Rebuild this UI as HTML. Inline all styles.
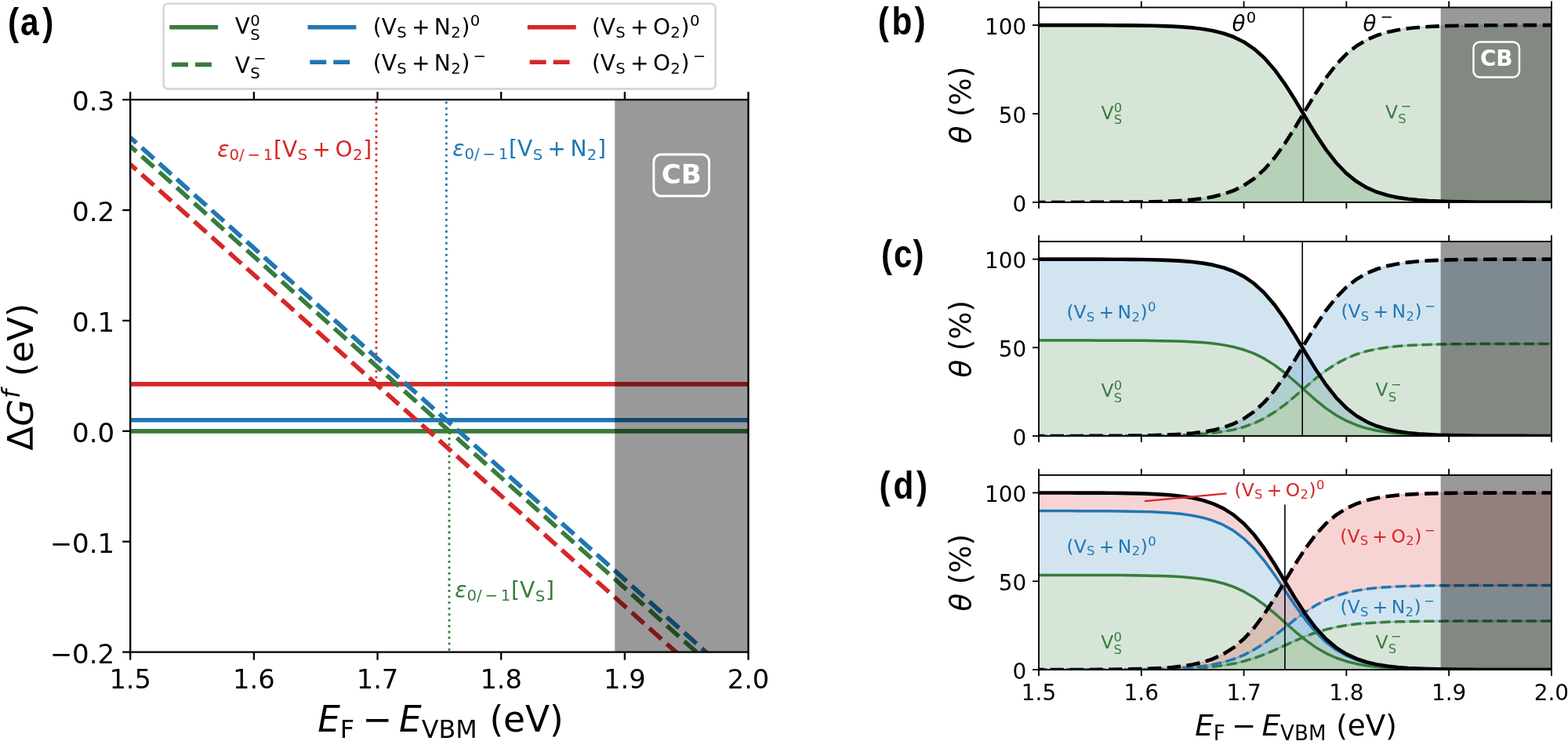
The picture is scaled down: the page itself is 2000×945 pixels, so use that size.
<!DOCTYPE html>
<html lang="en"><head><meta charset="utf-8"><title>Defect formation energies and coverages</title>
<style>html,body{margin:0;padding:0;background:#fff;}body{width:2000px;height:945px;overflow:hidden;}svg{display:block;}text{font-family:'DejaVu Sans','Liberation Sans',sans-serif;font-kerning:none;white-space:pre;}.pl{font-family:"Liberation Sans","DejaVu Sans",sans-serif;font-weight:bold;}</style></head><body>
<svg width="2000" height="945" viewBox="0 0 2000 945">
<rect x="0" y="0" width="2000" height="945" fill="#fff"/>
<clipPath id="c1"><rect x="166.2" y="127.1" width="788.3" height="704.5"/></clipPath>
<g clip-path="url(#c1)">
<line x1="161.2" y1="549.8" x2="959.5" y2="549.8" stroke="#377d3c" stroke-width="5.65" stroke-linecap="butt"/>
<line x1="161.2" y1="535.71" x2="959.5" y2="535.71" stroke="#1f77b4" stroke-width="5.65" stroke-linecap="butt"/>
<line x1="161.2" y1="489.92" x2="959.5" y2="489.92" stroke="#d62728" stroke-width="5.65" stroke-linecap="butt"/>
<line x1="479.94" y1="489.92" x2="479.94" y2="127.1" stroke="#d62728" stroke-width="2.82" stroke-linecap="butt" stroke-dasharray="2.82 4.65"/>
<line x1="569.34" y1="535.71" x2="569.34" y2="127.1" stroke="#1f77b4" stroke-width="2.82" stroke-linecap="butt" stroke-dasharray="2.82 4.65"/>
<line x1="572.96" y1="549.8" x2="572.96" y2="831.6" stroke="#377d3c" stroke-width="2.82" stroke-linecap="butt" stroke-dasharray="2.82 4.65" stroke-dashoffset="6.67"/>
<line x1="166.2" y1="186.28" x2="954.5" y2="890.78" stroke="#377d3c" stroke-width="5.65" stroke-linecap="butt" stroke-dasharray="20.9 9.04" stroke-dashoffset="10.4"/>
<line x1="166.2" y1="175.43" x2="954.5" y2="879.93" stroke="#1f77b4" stroke-width="5.65" stroke-linecap="butt" stroke-dasharray="20.9 9.04" stroke-dashoffset="10.4"/>
<line x1="166.2" y1="209.53" x2="954.5" y2="914.03" stroke="#d62728" stroke-width="5.65" stroke-linecap="butt" stroke-dasharray="20.9 9.04" stroke-dashoffset="10.4"/>
<rect x="784.23" y="127.1" width="170.27" height="704.5" fill="#000" fill-opacity="0.4"/>
</g>
<rect x="833.85" y="196.9" width="70.7" height="53.2" rx="9.5" ry="9.5" fill="none" stroke="#fff" stroke-width="3"/>
<text x="869.2" y="234.1" font-size="34" font-weight="bold" fill="#fff" text-anchor="middle">CB</text>
<rect x="166.2" y="127.1" width="788.3" height="704.5" fill="none" stroke="#000" stroke-width="2.3"/>
<line x1="166.2" y1="831.6" x2="166.2" y2="841.6" stroke="#000" stroke-width="2.3" stroke-linecap="butt"/>
<line x1="166.2" y1="127.1" x2="166.2" y2="117.1" stroke="#000" stroke-width="2.3" stroke-linecap="butt"/>
<line x1="323.86" y1="831.6" x2="323.86" y2="841.6" stroke="#000" stroke-width="2.3" stroke-linecap="butt"/>
<line x1="323.86" y1="127.1" x2="323.86" y2="117.1" stroke="#000" stroke-width="2.3" stroke-linecap="butt"/>
<line x1="481.52" y1="831.6" x2="481.52" y2="841.6" stroke="#000" stroke-width="2.3" stroke-linecap="butt"/>
<line x1="481.52" y1="127.1" x2="481.52" y2="117.1" stroke="#000" stroke-width="2.3" stroke-linecap="butt"/>
<line x1="639.18" y1="831.6" x2="639.18" y2="841.6" stroke="#000" stroke-width="2.3" stroke-linecap="butt"/>
<line x1="639.18" y1="127.1" x2="639.18" y2="117.1" stroke="#000" stroke-width="2.3" stroke-linecap="butt"/>
<line x1="796.84" y1="831.6" x2="796.84" y2="841.6" stroke="#000" stroke-width="2.3" stroke-linecap="butt"/>
<line x1="796.84" y1="127.1" x2="796.84" y2="117.1" stroke="#000" stroke-width="2.3" stroke-linecap="butt"/>
<line x1="954.5" y1="831.6" x2="954.5" y2="841.6" stroke="#000" stroke-width="2.3" stroke-linecap="butt"/>
<line x1="954.5" y1="127.1" x2="954.5" y2="117.1" stroke="#000" stroke-width="2.3" stroke-linecap="butt"/>
<line x1="166.2" y1="831.6" x2="156.2" y2="831.6" stroke="#000" stroke-width="2.3" stroke-linecap="butt"/>
<line x1="166.2" y1="690.7" x2="156.2" y2="690.7" stroke="#000" stroke-width="2.3" stroke-linecap="butt"/>
<line x1="166.2" y1="549.8" x2="156.2" y2="549.8" stroke="#000" stroke-width="2.3" stroke-linecap="butt"/>
<line x1="166.2" y1="408.9" x2="156.2" y2="408.9" stroke="#000" stroke-width="2.3" stroke-linecap="butt"/>
<line x1="166.2" y1="268" x2="156.2" y2="268" stroke="#000" stroke-width="2.3" stroke-linecap="butt"/>
<line x1="166.2" y1="127.1" x2="156.2" y2="127.1" stroke="#000" stroke-width="2.3" stroke-linecap="butt"/>
<text x="166.2" y="878" font-size="33.7" text-anchor="middle">1.5</text>
<text x="323.86" y="878" font-size="33.7" text-anchor="middle">1.6</text>
<text x="481.52" y="878" font-size="33.7" text-anchor="middle">1.7</text>
<text x="639.18" y="878" font-size="33.7" text-anchor="middle">1.8</text>
<text x="796.84" y="878" font-size="33.7" text-anchor="middle">1.9</text>
<text x="954.5" y="878" font-size="33.7" text-anchor="middle">2.0</text>
<text x="146.2" y="845.6" font-size="34" text-anchor="end">−0.2</text>
<text x="146.2" y="704.7" font-size="34" text-anchor="end">−0.1</text>
<text x="146.2" y="563.8" font-size="34" text-anchor="end">0.0</text>
<text x="146.2" y="422.9" font-size="34" text-anchor="end">0.1</text>
<text x="146.2" y="282" font-size="34" text-anchor="end">0.2</text>
<text x="146.2" y="141.1" font-size="34" text-anchor="end">0.3</text>
<text fill="#000"><tspan x="405.17" y="933.3" font-size="45.4" font-style="italic">E</tspan><tspan x="433.85" y="940.75" font-size="31.78">F</tspan><tspan x="462.22" y="933.3" font-size="45.4">−</tspan><tspan x="509.1" y="933.3" font-size="45.4" font-style="italic">E</tspan><tspan x="537.79" y="940.75" font-size="31.78">VBM</tspan><tspan x="609.99" y="933.3" font-size="45.4"> (eV)</tspan></text>
<g transform="translate(42.2,480.6) rotate(-90)"><text fill="#000"><tspan x="-94.01" y="0" font-size="45">Δ</tspan><tspan x="-63.23" y="0" font-size="45" font-style="italic">G</tspan><tspan x="-27.46" y="-17.23" font-size="31.5" font-style="italic">f</tspan><tspan x="-13.88" y="0" font-size="45"> (eV)</tspan></text></g>
<text fill="#d62728"><tspan x="277.3" y="199.6" font-size="28.1" font-style="italic">ε</tspan><tspan x="292.49" y="203.67" font-size="19.67">0/</tspan><tspan x="315.46" y="203.67" font-size="19.67">−</tspan><tspan x="335.78" y="203.67" font-size="19.67">1</tspan><tspan x="349.06" y="199.6" font-size="28.1">[</tspan><tspan x="360.02" y="199.6" font-size="28.1">V</tspan><tspan x="379.63" y="204.21" font-size="19.67">S</tspan><tspan x="398.36" y="199.6" font-size="28.1">+</tspan><tspan x="427.38" y="199.6" font-size="28.1">O</tspan><tspan x="449.88" y="204.21" font-size="19.67">2</tspan><tspan x="463.16" y="199.6" font-size="28.1">]</tspan></text>
<text fill="#1f77b4"><tspan x="577.3" y="199.3" font-size="28.1" font-style="italic">ε</tspan><tspan x="592.49" y="203.37" font-size="19.67">0/</tspan><tspan x="615.46" y="203.37" font-size="19.67">−</tspan><tspan x="635.78" y="203.37" font-size="19.67">1</tspan><tspan x="649.06" y="199.3" font-size="28.1">[</tspan><tspan x="660.02" y="199.3" font-size="28.1">V</tspan><tspan x="679.63" y="203.91" font-size="19.67">S</tspan><tspan x="698.36" y="199.3" font-size="28.1">+</tspan><tspan x="727.38" y="199.3" font-size="28.1">N</tspan><tspan x="748.78" y="203.91" font-size="19.67">2</tspan><tspan x="762.06" y="199.3" font-size="28.1">]</tspan></text>
<text fill="#377d3c"><tspan x="580.3" y="761.9" font-size="28.1" font-style="italic">ε</tspan><tspan x="595.49" y="765.97" font-size="19.67">0/</tspan><tspan x="618.46" y="765.97" font-size="19.67">−</tspan><tspan x="638.78" y="765.97" font-size="19.67">1</tspan><tspan x="652.06" y="761.9" font-size="28.1">[</tspan><tspan x="663.02" y="761.9" font-size="28.1">V</tspan><tspan x="682.63" y="766.51" font-size="19.67">S</tspan><tspan x="695.88" y="761.9" font-size="28.1">]</tspan></text>
<rect x="208.6" y="4.8" width="704" height="108.6" rx="5.5" ry="5.5" fill="#fff" fill-opacity="0.8" stroke="#ccc" stroke-opacity="0.8" stroke-width="2.6"/>
<line x1="219.1" y1="34.7" x2="275.3" y2="34.7" stroke="#377d3c" stroke-width="5.65" stroke-linecap="square"/>
<line x1="219.1" y1="82.3" x2="275.3" y2="82.3" stroke="#377d3c" stroke-width="5.65" stroke-linecap="butt" stroke-dasharray="20.9 9.04"/>
<text fill="#000"><tspan x="299.8" y="43.4" font-size="28">V</tspan><tspan x="319.34" y="51.06" font-size="19.6">S</tspan><tspan x="319.34" y="32.68" font-size="19.6">0</tspan></text>
<text fill="#000"><tspan x="299.8" y="92.5" font-size="28">V</tspan><tspan x="319.34" y="100.16" font-size="19.6">S</tspan><tspan x="323.16" y="80.94" font-size="19.6">−</tspan></text>
<line x1="395.3" y1="34.7" x2="451.5" y2="34.7" stroke="#1f77b4" stroke-width="5.65" stroke-linecap="square"/>
<line x1="395.3" y1="79.2" x2="451.5" y2="79.2" stroke="#1f77b4" stroke-width="5.65" stroke-linecap="butt" stroke-dasharray="20.9 9.04"/>
<text fill="#000"><tspan x="475.8" y="43.5" font-size="28">(</tspan><tspan x="486.72" y="43.5" font-size="28">V</tspan><tspan x="506.26" y="48.09" font-size="19.6">S</tspan><tspan x="524.92" y="43.5" font-size="28">+</tspan><tspan x="553.84" y="43.5" font-size="28">N</tspan><tspan x="575.17" y="48.09" font-size="19.6">2</tspan><tspan x="588.4" y="43.5" font-size="28">)</tspan><tspan x="599.71" y="32.78" font-size="19.6">0</tspan></text>
<text fill="#000"><tspan x="475.8" y="89.5" font-size="28">(</tspan><tspan x="486.72" y="89.5" font-size="28">V</tspan><tspan x="506.26" y="94.09" font-size="19.6">S</tspan><tspan x="524.92" y="89.5" font-size="28">+</tspan><tspan x="553.84" y="89.5" font-size="28">N</tspan><tspan x="575.17" y="94.09" font-size="19.6">2</tspan><tspan x="588.4" y="89.5" font-size="28">)</tspan><tspan x="603.53" y="77.94" font-size="19.6">−</tspan></text>
<line x1="675.7" y1="34.7" x2="731.9" y2="34.7" stroke="#d62728" stroke-width="5.65" stroke-linecap="square"/>
<line x1="675.7" y1="79.2" x2="731.9" y2="79.2" stroke="#d62728" stroke-width="5.65" stroke-linecap="butt" stroke-dasharray="20.9 9.04"/>
<text fill="#000"><tspan x="754.9" y="43.5" font-size="28">(</tspan><tspan x="765.82" y="43.5" font-size="28">V</tspan><tspan x="785.36" y="48.09" font-size="19.6">S</tspan><tspan x="804.02" y="43.5" font-size="28">+</tspan><tspan x="832.94" y="43.5" font-size="28">O</tspan><tspan x="855.36" y="48.09" font-size="19.6">2</tspan><tspan x="868.6" y="43.5" font-size="28">)</tspan><tspan x="879.9" y="32.78" font-size="19.6">0</tspan></text>
<text fill="#000"><tspan x="754.9" y="89.5" font-size="28">(</tspan><tspan x="765.82" y="89.5" font-size="28">V</tspan><tspan x="785.36" y="94.09" font-size="19.6">S</tspan><tspan x="804.02" y="89.5" font-size="28">+</tspan><tspan x="832.94" y="89.5" font-size="28">O</tspan><tspan x="855.36" y="94.09" font-size="19.6">2</tspan><tspan x="868.6" y="89.5" font-size="28">)</tspan><tspan x="883.72" y="77.94" font-size="19.6">−</tspan></text>
<g transform="translate(0,45) scale(0.84,1)"><text y="0" font-size="50.4" class="pl"><tspan x="11.77">(</tspan><tspan x="31.06">a</tspan><tspan x="64.67">)</tspan></text></g>
<clipPath id="c2"><rect x="1325" y="9.5" width="653.9" height="248.5"/></clipPath>
<g clip-path="url(#c2)">
<path d="M1298.84,32.1 L1311.92,32.1 L1325,32.1 L1338.08,32.11 L1351.16,32.11 L1364.23,32.12 L1377.31,32.14 L1390.39,32.16 L1403.47,32.19 L1416.55,32.24 L1429.62,32.31 L1442.7,32.42 L1455.78,32.57 L1468.86,32.8 L1481.94,33.14 L1495.01,33.63 L1508.09,34.36 L1521.17,35.42 L1534.25,36.97 L1547.33,39.22 L1560.4,42.45 L1573.48,47.06 L1586.56,53.5 L1599.64,62.32 L1612.72,74.03 L1625.79,88.96 L1638.87,107.03 L1651.95,127.61 L1665.03,149.44 L1678.11,170.95 L1691.18,190.64 L1704.26,207.5 L1717.34,221.12 L1730.42,231.62 L1743.5,239.42 L1756.57,245.07 L1769.65,249.07 L1782.73,251.87 L1795.81,253.81 L1808.89,255.14 L1821.96,256.06 L1835.04,256.68 L1848.12,257.1 L1861.2,257.39 L1874.28,257.59 L1887.35,257.72 L1900.43,257.81 L1913.51,257.87 L1926.59,257.91 L1939.67,257.94 L1952.74,257.96 L1965.82,257.97 L1978.9,257.98 L1991.98,257.99 L2005.06,257.99 L2005.06,258 L1991.98,258 L1978.9,258 L1965.82,258 L1952.74,258 L1939.67,258 L1926.59,258 L1913.51,258 L1900.43,258 L1887.35,258 L1874.28,258 L1861.2,258 L1848.12,258 L1835.04,258 L1821.96,258 L1808.89,258 L1795.81,258 L1782.73,258 L1769.65,258 L1756.57,258 L1743.5,258 L1730.42,258 L1717.34,258 L1704.26,258 L1691.18,258 L1678.11,258 L1665.03,258 L1651.95,258 L1638.87,258 L1625.79,258 L1612.72,258 L1599.64,258 L1586.56,258 L1573.48,258 L1560.4,258 L1547.33,258 L1534.25,258 L1521.17,258 L1508.09,258 L1495.01,258 L1481.94,258 L1468.86,258 L1455.78,258 L1442.7,258 L1429.62,258 L1416.55,258 L1403.47,258 L1390.39,258 L1377.31,258 L1364.23,258 L1351.16,258 L1338.08,258 L1325,258 L1311.92,258 L1298.84,258 Z" fill="#377d3c" fill-opacity="0.2" stroke="#377d3c" stroke-opacity="0.2" stroke-width="2.3" stroke-linejoin="round"/>
<path d="M1298.84,258 L1311.92,257.99 L1325,257.99 L1338.08,257.99 L1351.16,257.98 L1364.23,257.97 L1377.31,257.95 L1390.39,257.93 L1403.47,257.9 L1416.55,257.85 L1429.62,257.78 L1442.7,257.67 L1455.78,257.52 L1468.86,257.29 L1481.94,256.95 L1495.01,256.46 L1508.09,255.73 L1521.17,254.67 L1534.25,253.12 L1547.33,250.87 L1560.4,247.64 L1573.48,243.04 L1586.56,236.59 L1599.64,227.77 L1612.72,216.06 L1625.79,201.14 L1638.87,183.06 L1651.95,162.49 L1665.03,140.65 L1678.11,119.14 L1691.18,99.45 L1704.26,82.59 L1717.34,68.97 L1730.42,58.47 L1743.5,50.67 L1756.57,45.02 L1769.65,41.02 L1782.73,38.22 L1795.81,36.28 L1808.89,34.95 L1821.96,34.03 L1835.04,33.41 L1848.12,32.99 L1861.2,32.7 L1874.28,32.5 L1887.35,32.37 L1900.43,32.28 L1913.51,32.22 L1926.59,32.18 L1939.67,32.15 L1952.74,32.13 L1965.82,32.12 L1978.9,32.11 L1991.98,32.1 L2005.06,32.1 L2005.06,258 L1991.98,258 L1978.9,258 L1965.82,258 L1952.74,258 L1939.67,258 L1926.59,258 L1913.51,258 L1900.43,258 L1887.35,258 L1874.28,258 L1861.2,258 L1848.12,258 L1835.04,258 L1821.96,258 L1808.89,258 L1795.81,258 L1782.73,258 L1769.65,258 L1756.57,258 L1743.5,258 L1730.42,258 L1717.34,258 L1704.26,258 L1691.18,258 L1678.11,258 L1665.03,258 L1651.95,258 L1638.87,258 L1625.79,258 L1612.72,258 L1599.64,258 L1586.56,258 L1573.48,258 L1560.4,258 L1547.33,258 L1534.25,258 L1521.17,258 L1508.09,258 L1495.01,258 L1481.94,258 L1468.86,258 L1455.78,258 L1442.7,258 L1429.62,258 L1416.55,258 L1403.47,258 L1390.39,258 L1377.31,258 L1364.23,258 L1351.16,258 L1338.08,258 L1325,258 L1311.92,258 L1298.84,258 Z" fill="#377d3c" fill-opacity="0.2" stroke="#377d3c" stroke-opacity="0.2" stroke-width="2.3" stroke-linejoin="round"/>
<path d="M1298.84,32.1 L1311.92,32.1 L1325,32.1 L1338.08,32.11 L1351.16,32.11 L1364.23,32.12 L1377.31,32.14 L1390.39,32.16 L1403.47,32.19 L1416.55,32.24 L1429.62,32.31 L1442.7,32.42 L1455.78,32.57 L1468.86,32.8 L1481.94,33.14 L1495.01,33.63 L1508.09,34.36 L1521.17,35.42 L1534.25,36.97 L1547.33,39.22 L1560.4,42.45 L1573.48,47.06 L1586.56,53.5 L1599.64,62.32 L1612.72,74.03 L1625.79,88.96 L1638.87,107.03 L1651.95,127.61 L1665.03,149.44 L1678.11,170.95 L1691.18,190.64 L1704.26,207.5 L1717.34,221.12 L1730.42,231.62 L1743.5,239.42 L1756.57,245.07 L1769.65,249.07 L1782.73,251.87 L1795.81,253.81 L1808.89,255.14 L1821.96,256.06 L1835.04,256.68 L1848.12,257.1 L1861.2,257.39 L1874.28,257.59 L1887.35,257.72 L1900.43,257.81 L1913.51,257.87 L1926.59,257.91 L1939.67,257.94 L1952.74,257.96 L1965.82,257.97 L1978.9,257.98 L1991.98,257.99 L2005.06,257.99" fill="none" stroke="#000" stroke-width="4.65" stroke-linejoin="round" stroke-linecap="butt"/>
<path d="M1298.84,258 L1311.92,257.99 L1325,257.99 L1338.08,257.99 L1351.16,257.98 L1364.23,257.97 L1377.31,257.95 L1390.39,257.93 L1403.47,257.9 L1416.55,257.85 L1429.62,257.78 L1442.7,257.67 L1455.78,257.52 L1468.86,257.29 L1481.94,256.95 L1495.01,256.46 L1508.09,255.73 L1521.17,254.67 L1534.25,253.12 L1547.33,250.87 L1560.4,247.64 L1573.48,243.04 L1586.56,236.59 L1599.64,227.77 L1612.72,216.06 L1625.79,201.14 L1638.87,183.06 L1651.95,162.49 L1665.03,140.65 L1678.11,119.14 L1691.18,99.45 L1704.26,82.59 L1717.34,68.97 L1730.42,58.47 L1743.5,50.67 L1756.57,45.02 L1769.65,41.02 L1782.73,38.22 L1795.81,36.28 L1808.89,34.95 L1821.96,34.03 L1835.04,33.41 L1848.12,32.99 L1861.2,32.7 L1874.28,32.5 L1887.35,32.37 L1900.43,32.28 L1913.51,32.22 L1926.59,32.18 L1939.67,32.15 L1952.74,32.13 L1965.82,32.12 L1978.9,32.11 L1991.98,32.1 L2005.06,32.1" fill="none" stroke="#000" stroke-width="4.65" stroke-linejoin="round" stroke-linecap="butt" stroke-dasharray="17.37 7.51" stroke-dashoffset="7.7"/>
<line x1="1662.41" y1="9.5" x2="1662.41" y2="258" stroke="#000" stroke-width="1.6" stroke-linecap="butt"/>
<rect x="1837.66" y="9.5" width="141.24" height="248.5" fill="#000" fill-opacity="0.4"/>
</g>
<rect x="1325" y="9.5" width="653.9" height="248.5" fill="none" stroke="#000" stroke-width="1.85"/>
<line x1="1325" y1="258" x2="1325" y2="266" stroke="#000" stroke-width="1.85" stroke-linecap="butt"/>
<line x1="1325" y1="9.5" x2="1325" y2="1.5" stroke="#000" stroke-width="1.85" stroke-linecap="butt"/>
<line x1="1455.78" y1="258" x2="1455.78" y2="266" stroke="#000" stroke-width="1.85" stroke-linecap="butt"/>
<line x1="1455.78" y1="9.5" x2="1455.78" y2="1.5" stroke="#000" stroke-width="1.85" stroke-linecap="butt"/>
<line x1="1586.56" y1="258" x2="1586.56" y2="266" stroke="#000" stroke-width="1.85" stroke-linecap="butt"/>
<line x1="1586.56" y1="9.5" x2="1586.56" y2="1.5" stroke="#000" stroke-width="1.85" stroke-linecap="butt"/>
<line x1="1717.34" y1="258" x2="1717.34" y2="266" stroke="#000" stroke-width="1.85" stroke-linecap="butt"/>
<line x1="1717.34" y1="9.5" x2="1717.34" y2="1.5" stroke="#000" stroke-width="1.85" stroke-linecap="butt"/>
<line x1="1848.12" y1="258" x2="1848.12" y2="266" stroke="#000" stroke-width="1.85" stroke-linecap="butt"/>
<line x1="1848.12" y1="9.5" x2="1848.12" y2="1.5" stroke="#000" stroke-width="1.85" stroke-linecap="butt"/>
<line x1="1978.9" y1="258" x2="1978.9" y2="266" stroke="#000" stroke-width="1.85" stroke-linecap="butt"/>
<line x1="1978.9" y1="9.5" x2="1978.9" y2="1.5" stroke="#000" stroke-width="1.85" stroke-linecap="butt"/>
<line x1="1325" y1="258" x2="1317" y2="258" stroke="#000" stroke-width="1.85" stroke-linecap="butt"/>
<line x1="1325" y1="145.05" x2="1317" y2="145.05" stroke="#000" stroke-width="1.85" stroke-linecap="butt"/>
<line x1="1325" y1="32.09" x2="1317" y2="32.09" stroke="#000" stroke-width="1.85" stroke-linecap="butt"/>
<text x="1309.3" y="269.6" font-size="27.9" text-anchor="end">0</text>
<text x="1309.3" y="156.65" font-size="27.9" text-anchor="end">50</text>
<text x="1309.3" y="43.69" font-size="27.9" text-anchor="end">100</text>
<g transform="translate(1238.2,134.15) rotate(-90)"><text fill="#000"><tspan x="-49.21" y="0" font-size="37" font-style="italic">θ</tspan><tspan x="-26.58" y="0" font-size="37"> (%)</tspan></text></g>
<rect x="1879.45" y="53.45" width="58.5" height="45.1" rx="8" ry="8" fill="none" stroke="#fff" stroke-width="2.5"/>
<text x="1908.7" y="84.4" font-size="27.8" font-weight="bold" fill="#fff" text-anchor="middle">CB</text>
<text fill="#377d3c"><tspan x="1404.4" y="151.9" font-size="23.4">V</tspan><tspan x="1420.73" y="158.3" font-size="16.38">S</tspan><tspan x="1420.73" y="142.94" font-size="16.38">0</tspan></text>
<text fill="#377d3c"><tspan x="1767" y="151" font-size="23.4">V</tspan><tspan x="1783.33" y="157.4" font-size="16.38">S</tspan><tspan x="1786.52" y="141.34" font-size="16.38">−</tspan></text>
<text fill="#000"><tspan x="1571.6" y="39.5" font-size="27.8" font-style="italic">θ</tspan><tspan x="1589.83" y="28.86" font-size="19.46">0</tspan></text>
<text fill="#000"><tspan x="1738.6" y="39.5" font-size="27.8" font-style="italic">θ</tspan><tspan x="1760.62" y="28.02" font-size="19.46">−</tspan></text>
<g transform="translate(0,44.3) scale(0.84,1)"><text y="0" font-size="50.4" class="pl"><tspan x="1332.96">(</tspan><tspan x="1354.33">b</tspan><tspan x="1388.71">)</tspan></text></g>
<clipPath id="c3"><rect x="1325" y="308" width="653.9" height="248"/></clipPath>
<g clip-path="url(#c3)">
<path d="M1298.84,434.08 L1311.92,434.09 L1325,434.09 L1338.08,434.09 L1351.16,434.09 L1364.23,434.1 L1377.31,434.11 L1390.39,434.12 L1403.47,434.14 L1416.55,434.17 L1429.62,434.21 L1442.7,434.26 L1455.78,434.35 L1468.86,434.48 L1481.94,434.67 L1495.01,434.94 L1508.09,435.35 L1521.17,435.94 L1534.25,436.81 L1547.33,438.07 L1560.4,439.87 L1573.48,442.44 L1586.56,446.02 L1599.64,450.92 L1612.72,457.4 L1625.79,465.62 L1638.87,475.52 L1651.95,486.72 L1665.03,498.52 L1678.11,510.07 L1691.18,520.57 L1704.26,529.51 L1717.34,536.7 L1730.42,542.22 L1743.5,546.31 L1756.57,549.26 L1769.65,551.35 L1782.73,552.81 L1795.81,553.82 L1808.89,554.51 L1821.96,554.99 L1835.04,555.31 L1848.12,555.53 L1861.2,555.68 L1874.28,555.79 L1887.35,555.85 L1900.43,555.9 L1913.51,555.93 L1926.59,555.95 L1939.67,555.97 L1952.74,555.98 L1965.82,555.99 L1978.9,555.99 L1991.98,555.99 L2005.06,556 L2005.06,556 L1991.98,556 L1978.9,556 L1965.82,556 L1952.74,556 L1939.67,556 L1926.59,556 L1913.51,556 L1900.43,556 L1887.35,556 L1874.28,556 L1861.2,556 L1848.12,556 L1835.04,556 L1821.96,556 L1808.89,556 L1795.81,556 L1782.73,556 L1769.65,556 L1756.57,556 L1743.5,556 L1730.42,556 L1717.34,556 L1704.26,556 L1691.18,556 L1678.11,556 L1665.03,556 L1651.95,556 L1638.87,556 L1625.79,556 L1612.72,556 L1599.64,556 L1586.56,556 L1573.48,556 L1560.4,556 L1547.33,556 L1534.25,556 L1521.17,556 L1508.09,556 L1495.01,556 L1481.94,556 L1468.86,556 L1455.78,556 L1442.7,556 L1429.62,556 L1416.55,556 L1403.47,556 L1390.39,556 L1377.31,556 L1364.23,556 L1351.16,556 L1338.08,556 L1325,556 L1311.92,556 L1298.84,556 Z" fill="#377d3c" fill-opacity="0.2" stroke="#377d3c" stroke-opacity="0.2" stroke-width="2.3" stroke-linejoin="round"/>
<path d="M1298.84,330.55 L1311.92,330.55 L1325,330.56 L1338.08,330.56 L1351.16,330.57 L1364.23,330.58 L1377.31,330.59 L1390.39,330.62 L1403.47,330.65 L1416.55,330.7 L1429.62,330.77 L1442.7,330.88 L1455.78,331.04 L1468.86,331.28 L1481.94,331.63 L1495.01,332.14 L1508.09,332.89 L1521.17,333.99 L1534.25,335.59 L1547.33,337.91 L1560.4,341.25 L1573.48,346 L1586.56,352.63 L1599.64,361.68 L1612.72,373.66 L1625.79,388.86 L1638.87,407.17 L1651.95,427.88 L1665.03,449.71 L1678.11,471.06 L1691.18,490.49 L1704.26,507.01 L1717.34,520.3 L1730.42,530.51 L1743.5,538.07 L1756.57,543.53 L1769.65,547.4 L1782.73,550.1 L1795.81,551.97 L1808.89,553.25 L1821.96,554.13 L1835.04,554.73 L1848.12,555.14 L1861.2,555.41 L1874.28,555.6 L1887.35,555.73 L1900.43,555.82 L1913.51,555.88 L1926.59,555.92 L1939.67,555.94 L1952.74,555.96 L1965.82,555.97 L1978.9,555.98 L1991.98,555.99 L2005.06,555.99 L2005.06,556 L1991.98,555.99 L1978.9,555.99 L1965.82,555.99 L1952.74,555.98 L1939.67,555.97 L1926.59,555.95 L1913.51,555.93 L1900.43,555.9 L1887.35,555.85 L1874.28,555.79 L1861.2,555.68 L1848.12,555.53 L1835.04,555.31 L1821.96,554.99 L1808.89,554.51 L1795.81,553.82 L1782.73,552.81 L1769.65,551.35 L1756.57,549.26 L1743.5,546.31 L1730.42,542.22 L1717.34,536.7 L1704.26,529.51 L1691.18,520.57 L1678.11,510.07 L1665.03,498.52 L1651.95,486.72 L1638.87,475.52 L1625.79,465.62 L1612.72,457.4 L1599.64,450.92 L1586.56,446.02 L1573.48,442.44 L1560.4,439.87 L1547.33,438.07 L1534.25,436.81 L1521.17,435.94 L1508.09,435.35 L1495.01,434.94 L1481.94,434.67 L1468.86,434.48 L1455.78,434.35 L1442.7,434.26 L1429.62,434.21 L1416.55,434.17 L1403.47,434.14 L1390.39,434.12 L1377.31,434.11 L1364.23,434.1 L1351.16,434.09 L1338.08,434.09 L1325,434.09 L1311.92,434.09 L1298.84,434.08 Z" fill="#1f77b4" fill-opacity="0.2" stroke="#1f77b4" stroke-opacity="0.2" stroke-width="2.3" stroke-linejoin="round"/>
<path d="M1298.84,556 L1311.92,556 L1325,555.99 L1338.08,555.99 L1351.16,555.99 L1364.23,555.98 L1377.31,555.97 L1390.39,555.96 L1403.47,555.95 L1416.55,555.92 L1429.62,555.88 L1442.7,555.82 L1455.78,555.74 L1468.86,555.62 L1481.94,555.44 L1495.01,555.17 L1508.09,554.78 L1521.17,554.2 L1534.25,553.37 L1547.33,552.16 L1560.4,550.42 L1573.48,547.94 L1586.56,544.49 L1599.64,539.77 L1612.72,533.52 L1625.79,525.6 L1638.87,516.05 L1651.95,505.25 L1665.03,493.87 L1678.11,482.74 L1691.18,472.61 L1704.26,463.99 L1717.34,457.06 L1730.42,451.74 L1743.5,447.8 L1756.57,444.95 L1769.65,442.94 L1782.73,441.53 L1795.81,440.55 L1808.89,439.88 L1821.96,439.43 L1835.04,439.11 L1848.12,438.9 L1861.2,438.76 L1874.28,438.66 L1887.35,438.59 L1900.43,438.55 L1913.51,438.52 L1926.59,438.49 L1939.67,438.48 L1952.74,438.47 L1965.82,438.46 L1978.9,438.46 L1991.98,438.46 L2005.06,438.46 L2005.06,556 L1991.98,556 L1978.9,556 L1965.82,556 L1952.74,556 L1939.67,556 L1926.59,556 L1913.51,556 L1900.43,556 L1887.35,556 L1874.28,556 L1861.2,556 L1848.12,556 L1835.04,556 L1821.96,556 L1808.89,556 L1795.81,556 L1782.73,556 L1769.65,556 L1756.57,556 L1743.5,556 L1730.42,556 L1717.34,556 L1704.26,556 L1691.18,556 L1678.11,556 L1665.03,556 L1651.95,556 L1638.87,556 L1625.79,556 L1612.72,556 L1599.64,556 L1586.56,556 L1573.48,556 L1560.4,556 L1547.33,556 L1534.25,556 L1521.17,556 L1508.09,556 L1495.01,556 L1481.94,556 L1468.86,556 L1455.78,556 L1442.7,556 L1429.62,556 L1416.55,556 L1403.47,556 L1390.39,556 L1377.31,556 L1364.23,556 L1351.16,556 L1338.08,556 L1325,556 L1311.92,556 L1298.84,556 Z" fill="#377d3c" fill-opacity="0.2" stroke="#377d3c" stroke-opacity="0.2" stroke-width="2.3" stroke-linejoin="round"/>
<path d="M1298.84,556 L1311.92,555.99 L1325,555.99 L1338.08,555.98 L1351.16,555.98 L1364.23,555.97 L1377.31,555.95 L1390.39,555.93 L1403.47,555.89 L1416.55,555.84 L1429.62,555.77 L1442.7,555.66 L1455.78,555.5 L1468.86,555.26 L1481.94,554.92 L1495.01,554.4 L1508.09,553.65 L1521.17,552.56 L1534.25,550.95 L1547.33,548.63 L1560.4,545.29 L1573.48,540.55 L1586.56,533.92 L1599.64,524.87 L1612.72,512.89 L1625.79,497.69 L1638.87,479.38 L1651.95,458.66 L1665.03,436.84 L1678.11,415.48 L1691.18,396.06 L1704.26,379.53 L1717.34,366.24 L1730.42,356.04 L1743.5,348.47 L1756.57,343.01 L1769.65,339.15 L1782.73,336.45 L1795.81,334.58 L1808.89,333.29 L1821.96,332.42 L1835.04,331.82 L1848.12,331.41 L1861.2,331.13 L1874.28,330.94 L1887.35,330.81 L1900.43,330.73 L1913.51,330.67 L1926.59,330.63 L1939.67,330.6 L1952.74,330.58 L1965.82,330.57 L1978.9,330.56 L1991.98,330.56 L2005.06,330.55 L2005.06,438.46 L1991.98,438.46 L1978.9,438.46 L1965.82,438.46 L1952.74,438.47 L1939.67,438.48 L1926.59,438.49 L1913.51,438.52 L1900.43,438.55 L1887.35,438.59 L1874.28,438.66 L1861.2,438.76 L1848.12,438.9 L1835.04,439.11 L1821.96,439.43 L1808.89,439.88 L1795.81,440.55 L1782.73,441.53 L1769.65,442.94 L1756.57,444.95 L1743.5,447.8 L1730.42,451.74 L1717.34,457.06 L1704.26,463.99 L1691.18,472.61 L1678.11,482.74 L1665.03,493.87 L1651.95,505.25 L1638.87,516.05 L1625.79,525.6 L1612.72,533.52 L1599.64,539.77 L1586.56,544.49 L1573.48,547.94 L1560.4,550.42 L1547.33,552.16 L1534.25,553.37 L1521.17,554.2 L1508.09,554.78 L1495.01,555.17 L1481.94,555.44 L1468.86,555.62 L1455.78,555.74 L1442.7,555.82 L1429.62,555.88 L1416.55,555.92 L1403.47,555.95 L1390.39,555.96 L1377.31,555.97 L1364.23,555.98 L1351.16,555.99 L1338.08,555.99 L1325,555.99 L1311.92,556 L1298.84,556 Z" fill="#1f77b4" fill-opacity="0.2" stroke="#1f77b4" stroke-opacity="0.2" stroke-width="2.3" stroke-linejoin="round"/>
<path d="M1298.84,434.08 L1311.92,434.09 L1325,434.09 L1338.08,434.09 L1351.16,434.09 L1364.23,434.1 L1377.31,434.11 L1390.39,434.12 L1403.47,434.14 L1416.55,434.17 L1429.62,434.21 L1442.7,434.26 L1455.78,434.35 L1468.86,434.48 L1481.94,434.67 L1495.01,434.94 L1508.09,435.35 L1521.17,435.94 L1534.25,436.81 L1547.33,438.07 L1560.4,439.87 L1573.48,442.44 L1586.56,446.02 L1599.64,450.92 L1612.72,457.4 L1625.79,465.62 L1638.87,475.52 L1651.95,486.72 L1665.03,498.52 L1678.11,510.07 L1691.18,520.57 L1704.26,529.51 L1717.34,536.7 L1730.42,542.22 L1743.5,546.31 L1756.57,549.26 L1769.65,551.35 L1782.73,552.81 L1795.81,553.82 L1808.89,554.51 L1821.96,554.99 L1835.04,555.31 L1848.12,555.53 L1861.2,555.68 L1874.28,555.79 L1887.35,555.85 L1900.43,555.9 L1913.51,555.93 L1926.59,555.95 L1939.67,555.97 L1952.74,555.98 L1965.82,555.99 L1978.9,555.99 L1991.98,555.99 L2005.06,556" fill="none" stroke="#377d3c" stroke-width="3.5" stroke-linejoin="round" stroke-linecap="butt"/>
<path d="M1298.84,556 L1311.92,556 L1325,555.99 L1338.08,555.99 L1351.16,555.99 L1364.23,555.98 L1377.31,555.97 L1390.39,555.96 L1403.47,555.95 L1416.55,555.92 L1429.62,555.88 L1442.7,555.82 L1455.78,555.74 L1468.86,555.62 L1481.94,555.44 L1495.01,555.17 L1508.09,554.78 L1521.17,554.2 L1534.25,553.37 L1547.33,552.16 L1560.4,550.42 L1573.48,547.94 L1586.56,544.49 L1599.64,539.77 L1612.72,533.52 L1625.79,525.6 L1638.87,516.05 L1651.95,505.25 L1665.03,493.87 L1678.11,482.74 L1691.18,472.61 L1704.26,463.99 L1717.34,457.06 L1730.42,451.74 L1743.5,447.8 L1756.57,444.95 L1769.65,442.94 L1782.73,441.53 L1795.81,440.55 L1808.89,439.88 L1821.96,439.43 L1835.04,439.11 L1848.12,438.9 L1861.2,438.76 L1874.28,438.66 L1887.35,438.59 L1900.43,438.55 L1913.51,438.52 L1926.59,438.49 L1939.67,438.48 L1952.74,438.47 L1965.82,438.46 L1978.9,438.46 L1991.98,438.46 L2005.06,438.46" fill="none" stroke="#377d3c" stroke-width="3.5" stroke-linejoin="round" stroke-linecap="butt" stroke-dasharray="13.0 5.62" stroke-dashoffset="13.3"/>
<path d="M1298.84,330.55 L1311.92,330.55 L1325,330.56 L1338.08,330.56 L1351.16,330.57 L1364.23,330.58 L1377.31,330.59 L1390.39,330.62 L1403.47,330.65 L1416.55,330.7 L1429.62,330.77 L1442.7,330.88 L1455.78,331.04 L1468.86,331.28 L1481.94,331.63 L1495.01,332.14 L1508.09,332.89 L1521.17,333.99 L1534.25,335.59 L1547.33,337.91 L1560.4,341.25 L1573.48,346 L1586.56,352.63 L1599.64,361.68 L1612.72,373.66 L1625.79,388.86 L1638.87,407.17 L1651.95,427.88 L1665.03,449.71 L1678.11,471.06 L1691.18,490.49 L1704.26,507.01 L1717.34,520.3 L1730.42,530.51 L1743.5,538.07 L1756.57,543.53 L1769.65,547.4 L1782.73,550.1 L1795.81,551.97 L1808.89,553.25 L1821.96,554.13 L1835.04,554.73 L1848.12,555.14 L1861.2,555.41 L1874.28,555.6 L1887.35,555.73 L1900.43,555.82 L1913.51,555.88 L1926.59,555.92 L1939.67,555.94 L1952.74,555.96 L1965.82,555.97 L1978.9,555.98 L1991.98,555.99 L2005.06,555.99" fill="none" stroke="#000" stroke-width="4.65" stroke-linejoin="round" stroke-linecap="butt"/>
<path d="M1298.84,556 L1311.92,555.99 L1325,555.99 L1338.08,555.98 L1351.16,555.98 L1364.23,555.97 L1377.31,555.95 L1390.39,555.93 L1403.47,555.89 L1416.55,555.84 L1429.62,555.77 L1442.7,555.66 L1455.78,555.5 L1468.86,555.26 L1481.94,554.92 L1495.01,554.4 L1508.09,553.65 L1521.17,552.56 L1534.25,550.95 L1547.33,548.63 L1560.4,545.29 L1573.48,540.55 L1586.56,533.92 L1599.64,524.87 L1612.72,512.89 L1625.79,497.69 L1638.87,479.38 L1651.95,458.66 L1665.03,436.84 L1678.11,415.48 L1691.18,396.06 L1704.26,379.53 L1717.34,366.24 L1730.42,356.04 L1743.5,348.47 L1756.57,343.01 L1769.65,339.15 L1782.73,336.45 L1795.81,334.58 L1808.89,333.29 L1821.96,332.42 L1835.04,331.82 L1848.12,331.41 L1861.2,331.13 L1874.28,330.94 L1887.35,330.81 L1900.43,330.73 L1913.51,330.67 L1926.59,330.63 L1939.67,330.6 L1952.74,330.58 L1965.82,330.57 L1978.9,330.56 L1991.98,330.56 L2005.06,330.55" fill="none" stroke="#000" stroke-width="4.65" stroke-linejoin="round" stroke-linecap="butt" stroke-dasharray="17.37 7.51" stroke-dashoffset="9"/>
<line x1="1661.19" y1="308" x2="1661.19" y2="556" stroke="#000" stroke-width="1.6" stroke-linecap="butt"/>
<rect x="1837.66" y="308" width="141.24" height="248" fill="#000" fill-opacity="0.4"/>
</g>
<rect x="1325" y="308" width="653.9" height="248" fill="none" stroke="#000" stroke-width="1.85"/>
<line x1="1325" y1="556" x2="1325" y2="564" stroke="#000" stroke-width="1.85" stroke-linecap="butt"/>
<line x1="1325" y1="308" x2="1325" y2="300" stroke="#000" stroke-width="1.85" stroke-linecap="butt"/>
<line x1="1455.78" y1="556" x2="1455.78" y2="564" stroke="#000" stroke-width="1.85" stroke-linecap="butt"/>
<line x1="1455.78" y1="308" x2="1455.78" y2="300" stroke="#000" stroke-width="1.85" stroke-linecap="butt"/>
<line x1="1586.56" y1="556" x2="1586.56" y2="564" stroke="#000" stroke-width="1.85" stroke-linecap="butt"/>
<line x1="1586.56" y1="308" x2="1586.56" y2="300" stroke="#000" stroke-width="1.85" stroke-linecap="butt"/>
<line x1="1717.34" y1="556" x2="1717.34" y2="564" stroke="#000" stroke-width="1.85" stroke-linecap="butt"/>
<line x1="1717.34" y1="308" x2="1717.34" y2="300" stroke="#000" stroke-width="1.85" stroke-linecap="butt"/>
<line x1="1848.12" y1="556" x2="1848.12" y2="564" stroke="#000" stroke-width="1.85" stroke-linecap="butt"/>
<line x1="1848.12" y1="308" x2="1848.12" y2="300" stroke="#000" stroke-width="1.85" stroke-linecap="butt"/>
<line x1="1978.9" y1="556" x2="1978.9" y2="564" stroke="#000" stroke-width="1.85" stroke-linecap="butt"/>
<line x1="1978.9" y1="308" x2="1978.9" y2="300" stroke="#000" stroke-width="1.85" stroke-linecap="butt"/>
<line x1="1325" y1="556" x2="1317" y2="556" stroke="#000" stroke-width="1.85" stroke-linecap="butt"/>
<line x1="1325" y1="443.27" x2="1317" y2="443.27" stroke="#000" stroke-width="1.85" stroke-linecap="butt"/>
<line x1="1325" y1="330.55" x2="1317" y2="330.55" stroke="#000" stroke-width="1.85" stroke-linecap="butt"/>
<text x="1309.3" y="567.6" font-size="27.9" text-anchor="end">0</text>
<text x="1309.3" y="454.87" font-size="27.9" text-anchor="end">50</text>
<text x="1309.3" y="342.15" font-size="27.9" text-anchor="end">100</text>
<g transform="translate(1238.2,432.4) rotate(-90)"><text fill="#000"><tspan x="-49.21" y="0" font-size="37" font-style="italic">θ</tspan><tspan x="-26.58" y="0" font-size="37"> (%)</tspan></text></g>
<text fill="#377d3c"><tspan x="1404.4" y="506.3" font-size="23.4">V</tspan><tspan x="1420.73" y="512.7" font-size="16.38">S</tspan><tspan x="1420.73" y="497.34" font-size="16.38">0</tspan></text>
<text fill="#377d3c"><tspan x="1754.5" y="505.3" font-size="23.4">V</tspan><tspan x="1770.83" y="511.7" font-size="16.38">S</tspan><tspan x="1774.02" y="495.64" font-size="16.38">−</tspan></text>
<text fill="#1f77b4"><tspan x="1360.4" y="406" font-size="23.4">(</tspan><tspan x="1369.53" y="406" font-size="23.4">V</tspan><tspan x="1385.86" y="409.84" font-size="16.38">S</tspan><tspan x="1401.45" y="406" font-size="23.4">+</tspan><tspan x="1425.62" y="406" font-size="23.4">N</tspan><tspan x="1443.44" y="409.84" font-size="16.38">2</tspan><tspan x="1454.5" y="406" font-size="23.4">)</tspan><tspan x="1463.95" y="397.04" font-size="16.38">0</tspan></text>
<text fill="#1f77b4"><tspan x="1710.4" y="405.2" font-size="23.4">(</tspan><tspan x="1719.53" y="405.2" font-size="23.4">V</tspan><tspan x="1735.86" y="409.04" font-size="16.38">S</tspan><tspan x="1751.45" y="405.2" font-size="23.4">+</tspan><tspan x="1775.62" y="405.2" font-size="23.4">N</tspan><tspan x="1793.44" y="409.04" font-size="16.38">2</tspan><tspan x="1804.5" y="405.2" font-size="23.4">)</tspan><tspan x="1817.14" y="395.54" font-size="16.38">−</tspan></text>
<g transform="translate(0,340.8) scale(0.84,1)"><text y="0" font-size="50.4" class="pl"><tspan x="1338.19">(</tspan><tspan x="1357.17">c</tspan><tspan x="1386.45">)</tspan></text></g>
<clipPath id="c4"><rect x="1325" y="605.9" width="653.9" height="248.2"/></clipPath>
<g clip-path="url(#c4)">
<path d="M1298.84,733.38 L1311.92,733.38 L1325,733.39 L1338.08,733.39 L1351.16,733.4 L1364.23,733.41 L1377.31,733.42 L1390.39,733.45 L1403.47,733.48 L1416.55,733.54 L1429.62,733.61 L1442.7,733.73 L1455.78,733.89 L1468.86,734.14 L1481.94,734.5 L1495.01,735.02 L1508.09,735.79 L1521.17,736.9 L1534.25,738.51 L1547.33,740.8 L1560.4,744.03 L1573.48,748.46 L1586.56,754.39 L1599.64,762.01 L1612.72,771.35 L1625.79,782.12 L1638.87,793.71 L1651.95,805.31 L1665.03,816.09 L1678.11,825.43 L1691.18,833.06 L1704.26,838.99 L1717.34,843.43 L1730.42,846.66 L1743.5,848.96 L1756.57,850.57 L1769.65,851.68 L1782.73,852.45 L1795.81,852.98 L1808.89,853.34 L1821.96,853.58 L1835.04,853.75 L1848.12,853.86 L1861.2,853.94 L1874.28,853.99 L1887.35,854.03 L1900.43,854.05 L1913.51,854.07 L1926.59,854.08 L1939.67,854.08 L1952.74,854.09 L1965.82,854.09 L1978.9,854.1 L1991.98,854.1 L2005.06,854.1 L2005.06,854.1 L1991.98,854.1 L1978.9,854.1 L1965.82,854.1 L1952.74,854.1 L1939.67,854.1 L1926.59,854.1 L1913.51,854.1 L1900.43,854.1 L1887.35,854.1 L1874.28,854.1 L1861.2,854.1 L1848.12,854.1 L1835.04,854.1 L1821.96,854.1 L1808.89,854.1 L1795.81,854.1 L1782.73,854.1 L1769.65,854.1 L1756.57,854.1 L1743.5,854.1 L1730.42,854.1 L1717.34,854.1 L1704.26,854.1 L1691.18,854.1 L1678.11,854.1 L1665.03,854.1 L1651.95,854.1 L1638.87,854.1 L1625.79,854.1 L1612.72,854.1 L1599.64,854.1 L1586.56,854.1 L1573.48,854.1 L1560.4,854.1 L1547.33,854.1 L1534.25,854.1 L1521.17,854.1 L1508.09,854.1 L1495.01,854.1 L1481.94,854.1 L1468.86,854.1 L1455.78,854.1 L1442.7,854.1 L1429.62,854.1 L1416.55,854.1 L1403.47,854.1 L1390.39,854.1 L1377.31,854.1 L1364.23,854.1 L1351.16,854.1 L1338.08,854.1 L1325,854.1 L1311.92,854.1 L1298.84,854.1 Z" fill="#377d3c" fill-opacity="0.2" stroke="#377d3c" stroke-opacity="0.2" stroke-width="2.3" stroke-linejoin="round"/>
<path d="M1298.84,651.57 L1311.92,651.58 L1325,651.58 L1338.08,651.59 L1351.16,651.6 L1364.23,651.62 L1377.31,651.65 L1390.39,651.69 L1403.47,651.75 L1416.55,651.83 L1429.62,651.96 L1442.7,652.15 L1455.78,652.43 L1468.86,652.84 L1481.94,653.44 L1495.01,654.33 L1508.09,655.61 L1521.17,657.48 L1534.25,660.18 L1547.33,664.03 L1560.4,669.43 L1573.48,676.87 L1586.56,686.82 L1599.64,699.61 L1612.72,715.27 L1625.79,733.34 L1638.87,752.79 L1651.95,772.25 L1665.03,790.33 L1678.11,806 L1691.18,818.8 L1704.26,828.76 L1717.34,836.2 L1730.42,841.62 L1743.5,845.47 L1756.57,848.17 L1769.65,850.04 L1782.73,851.33 L1795.81,852.22 L1808.89,852.82 L1821.96,853.23 L1835.04,853.51 L1848.12,853.7 L1861.2,853.83 L1874.28,853.92 L1887.35,853.98 L1900.43,854.02 L1913.51,854.04 L1926.59,854.06 L1939.67,854.07 L1952.74,854.08 L1965.82,854.09 L1978.9,854.09 L1991.98,854.09 L2005.06,854.1 L2005.06,854.1 L1991.98,854.1 L1978.9,854.1 L1965.82,854.09 L1952.74,854.09 L1939.67,854.08 L1926.59,854.08 L1913.51,854.07 L1900.43,854.05 L1887.35,854.03 L1874.28,853.99 L1861.2,853.94 L1848.12,853.86 L1835.04,853.75 L1821.96,853.58 L1808.89,853.34 L1795.81,852.98 L1782.73,852.45 L1769.65,851.68 L1756.57,850.57 L1743.5,848.96 L1730.42,846.66 L1717.34,843.43 L1704.26,838.99 L1691.18,833.06 L1678.11,825.43 L1665.03,816.09 L1651.95,805.31 L1638.87,793.71 L1625.79,782.12 L1612.72,771.35 L1599.64,762.01 L1586.56,754.39 L1573.48,748.46 L1560.4,744.03 L1547.33,740.8 L1534.25,738.51 L1521.17,736.9 L1508.09,735.79 L1495.01,735.02 L1481.94,734.5 L1468.86,734.14 L1455.78,733.89 L1442.7,733.73 L1429.62,733.61 L1416.55,733.54 L1403.47,733.48 L1390.39,733.45 L1377.31,733.42 L1364.23,733.41 L1351.16,733.4 L1338.08,733.39 L1325,733.39 L1311.92,733.38 L1298.84,733.38 Z" fill="#1f77b4" fill-opacity="0.2" stroke="#1f77b4" stroke-opacity="0.2" stroke-width="2.3" stroke-linejoin="round"/>
<path d="M1298.84,628.47 L1311.92,628.48 L1325,628.48 L1338.08,628.49 L1351.16,628.51 L1364.23,628.53 L1377.31,628.56 L1390.39,628.6 L1403.47,628.67 L1416.55,628.77 L1429.62,628.91 L1442.7,629.12 L1455.78,629.43 L1468.86,629.89 L1481.94,630.56 L1495.01,631.54 L1508.09,632.98 L1521.17,635.06 L1534.25,638.06 L1547.33,642.35 L1560.4,648.37 L1573.48,656.66 L1586.56,667.74 L1599.64,681.99 L1612.72,699.44 L1625.79,719.56 L1638.87,741.24 L1651.95,762.92 L1665.03,783.05 L1678.11,800.52 L1691.18,814.78 L1704.26,825.87 L1717.34,834.16 L1730.42,840.19 L1743.5,844.49 L1756.57,847.49 L1769.65,849.58 L1782.73,851.02 L1795.81,852 L1808.89,852.67 L1821.96,853.13 L1835.04,853.44 L1848.12,853.65 L1861.2,853.8 L1874.28,853.9 L1887.35,853.96 L1900.43,854.01 L1913.51,854.04 L1926.59,854.06 L1939.67,854.07 L1952.74,854.08 L1965.82,854.09 L1978.9,854.09 L1991.98,854.09 L2005.06,854.1 L2005.06,854.1 L1991.98,854.09 L1978.9,854.09 L1965.82,854.09 L1952.74,854.08 L1939.67,854.07 L1926.59,854.06 L1913.51,854.04 L1900.43,854.02 L1887.35,853.98 L1874.28,853.92 L1861.2,853.83 L1848.12,853.7 L1835.04,853.51 L1821.96,853.23 L1808.89,852.82 L1795.81,852.22 L1782.73,851.33 L1769.65,850.04 L1756.57,848.17 L1743.5,845.47 L1730.42,841.62 L1717.34,836.2 L1704.26,828.76 L1691.18,818.8 L1678.11,806 L1665.03,790.33 L1651.95,772.25 L1638.87,752.79 L1625.79,733.34 L1612.72,715.27 L1599.64,699.61 L1586.56,686.82 L1573.48,676.87 L1560.4,669.43 L1547.33,664.03 L1534.25,660.18 L1521.17,657.48 L1508.09,655.61 L1495.01,654.33 L1481.94,653.44 L1468.86,652.84 L1455.78,652.43 L1442.7,652.15 L1429.62,651.96 L1416.55,651.83 L1403.47,651.75 L1390.39,651.69 L1377.31,651.65 L1364.23,651.62 L1351.16,651.6 L1338.08,651.59 L1325,651.58 L1311.92,651.58 L1298.84,651.57 Z" fill="#d62728" fill-opacity="0.2" stroke="#d62728" stroke-opacity="0.2" stroke-width="2.3" stroke-linejoin="round"/>
<path d="M1298.84,854.1 L1311.92,854.1 L1325,854.09 L1338.08,854.09 L1351.16,854.09 L1364.23,854.08 L1377.31,854.07 L1390.39,854.06 L1403.47,854.04 L1416.55,854.02 L1429.62,853.98 L1442.7,853.92 L1455.78,853.83 L1468.86,853.71 L1481.94,853.52 L1495.01,853.25 L1508.09,852.86 L1521.17,852.28 L1534.25,851.46 L1547.33,850.28 L1560.4,848.62 L1573.48,846.34 L1586.56,843.29 L1599.64,839.37 L1612.72,834.56 L1625.79,829.02 L1638.87,823.06 L1651.95,817.09 L1665.03,811.55 L1678.11,806.74 L1691.18,802.81 L1704.26,799.76 L1717.34,797.48 L1730.42,795.82 L1743.5,794.64 L1756.57,793.81 L1769.65,793.23 L1782.73,792.84 L1795.81,792.57 L1808.89,792.38 L1821.96,792.26 L1835.04,792.17 L1848.12,792.11 L1861.2,792.07 L1874.28,792.05 L1887.35,792.03 L1900.43,792.02 L1913.51,792.01 L1926.59,792 L1939.67,792 L1952.74,792 L1965.82,791.99 L1978.9,791.99 L1991.98,791.99 L2005.06,791.99 L2005.06,854.1 L1991.98,854.1 L1978.9,854.1 L1965.82,854.1 L1952.74,854.1 L1939.67,854.1 L1926.59,854.1 L1913.51,854.1 L1900.43,854.1 L1887.35,854.1 L1874.28,854.1 L1861.2,854.1 L1848.12,854.1 L1835.04,854.1 L1821.96,854.1 L1808.89,854.1 L1795.81,854.1 L1782.73,854.1 L1769.65,854.1 L1756.57,854.1 L1743.5,854.1 L1730.42,854.1 L1717.34,854.1 L1704.26,854.1 L1691.18,854.1 L1678.11,854.1 L1665.03,854.1 L1651.95,854.1 L1638.87,854.1 L1625.79,854.1 L1612.72,854.1 L1599.64,854.1 L1586.56,854.1 L1573.48,854.1 L1560.4,854.1 L1547.33,854.1 L1534.25,854.1 L1521.17,854.1 L1508.09,854.1 L1495.01,854.1 L1481.94,854.1 L1468.86,854.1 L1455.78,854.1 L1442.7,854.1 L1429.62,854.1 L1416.55,854.1 L1403.47,854.1 L1390.39,854.1 L1377.31,854.1 L1364.23,854.1 L1351.16,854.1 L1338.08,854.1 L1325,854.1 L1311.92,854.1 L1298.84,854.1 Z" fill="#377d3c" fill-opacity="0.2" stroke="#377d3c" stroke-opacity="0.2" stroke-width="2.3" stroke-linejoin="round"/>
<path d="M1298.84,854.1 L1311.92,854.09 L1325,854.09 L1338.08,854.09 L1351.16,854.08 L1364.23,854.07 L1377.31,854.06 L1390.39,854.03 L1403.47,854 L1416.55,853.96 L1429.62,853.89 L1442.7,853.79 L1455.78,853.64 L1468.86,853.42 L1481.94,853.1 L1495.01,852.63 L1508.09,851.95 L1521.17,850.95 L1534.25,849.52 L1547.33,847.48 L1560.4,844.61 L1573.48,840.65 L1586.56,835.37 L1599.64,828.58 L1612.72,820.25 L1625.79,810.65 L1638.87,800.32 L1651.95,789.98 L1665.03,780.38 L1678.11,772.05 L1691.18,765.25 L1704.26,759.96 L1717.34,756 L1730.42,753.13 L1743.5,751.08 L1756.57,749.64 L1769.65,748.65 L1782.73,747.96 L1795.81,747.49 L1808.89,747.17 L1821.96,746.96 L1835.04,746.81 L1848.12,746.71 L1861.2,746.64 L1874.28,746.59 L1887.35,746.56 L1900.43,746.54 L1913.51,746.52 L1926.59,746.51 L1939.67,746.51 L1952.74,746.5 L1965.82,746.5 L1978.9,746.5 L1991.98,746.5 L2005.06,746.5 L2005.06,791.99 L1991.98,791.99 L1978.9,791.99 L1965.82,791.99 L1952.74,792 L1939.67,792 L1926.59,792 L1913.51,792.01 L1900.43,792.02 L1887.35,792.03 L1874.28,792.05 L1861.2,792.07 L1848.12,792.11 L1835.04,792.17 L1821.96,792.26 L1808.89,792.38 L1795.81,792.57 L1782.73,792.84 L1769.65,793.23 L1756.57,793.81 L1743.5,794.64 L1730.42,795.82 L1717.34,797.48 L1704.26,799.76 L1691.18,802.81 L1678.11,806.74 L1665.03,811.55 L1651.95,817.09 L1638.87,823.06 L1625.79,829.02 L1612.72,834.56 L1599.64,839.37 L1586.56,843.29 L1573.48,846.34 L1560.4,848.62 L1547.33,850.28 L1534.25,851.46 L1521.17,852.28 L1508.09,852.86 L1495.01,853.25 L1481.94,853.52 L1468.86,853.71 L1455.78,853.83 L1442.7,853.92 L1429.62,853.98 L1416.55,854.02 L1403.47,854.04 L1390.39,854.06 L1377.31,854.07 L1364.23,854.08 L1351.16,854.09 L1338.08,854.09 L1325,854.09 L1311.92,854.1 L1298.84,854.1 Z" fill="#1f77b4" fill-opacity="0.2" stroke="#1f77b4" stroke-opacity="0.2" stroke-width="2.3" stroke-linejoin="round"/>
<path d="M1298.84,854.09 L1311.92,854.09 L1325,854.08 L1338.08,854.07 L1351.16,854.06 L1364.23,854.04 L1377.31,854.01 L1390.39,853.96 L1403.47,853.9 L1416.55,853.8 L1429.62,853.65 L1442.7,853.44 L1455.78,853.13 L1468.86,852.68 L1481.94,852 L1495.01,851.02 L1508.09,849.59 L1521.17,847.5 L1534.25,844.5 L1547.33,840.21 L1560.4,834.19 L1573.48,825.9 L1586.56,814.83 L1599.64,800.58 L1612.72,783.13 L1625.79,763 L1638.87,741.32 L1651.95,719.65 L1665.03,699.51 L1678.11,682.05 L1691.18,667.79 L1704.26,656.7 L1717.34,648.4 L1730.42,642.37 L1743.5,638.08 L1756.57,635.07 L1769.65,632.98 L1782.73,631.55 L1795.81,630.56 L1808.89,629.89 L1821.96,629.43 L1835.04,629.12 L1848.12,628.91 L1861.2,628.77 L1874.28,628.67 L1887.35,628.6 L1900.43,628.56 L1913.51,628.53 L1926.59,628.51 L1939.67,628.49 L1952.74,628.48 L1965.82,628.48 L1978.9,628.47 L1991.98,628.47 L2005.06,628.47 L2005.06,746.5 L1991.98,746.5 L1978.9,746.5 L1965.82,746.5 L1952.74,746.5 L1939.67,746.51 L1926.59,746.51 L1913.51,746.52 L1900.43,746.54 L1887.35,746.56 L1874.28,746.59 L1861.2,746.64 L1848.12,746.71 L1835.04,746.81 L1821.96,746.96 L1808.89,747.17 L1795.81,747.49 L1782.73,747.96 L1769.65,748.65 L1756.57,749.64 L1743.5,751.08 L1730.42,753.13 L1717.34,756 L1704.26,759.96 L1691.18,765.25 L1678.11,772.05 L1665.03,780.38 L1651.95,789.98 L1638.87,800.32 L1625.79,810.65 L1612.72,820.25 L1599.64,828.58 L1586.56,835.37 L1573.48,840.65 L1560.4,844.61 L1547.33,847.48 L1534.25,849.52 L1521.17,850.95 L1508.09,851.95 L1495.01,852.63 L1481.94,853.1 L1468.86,853.42 L1455.78,853.64 L1442.7,853.79 L1429.62,853.89 L1416.55,853.96 L1403.47,854 L1390.39,854.03 L1377.31,854.06 L1364.23,854.07 L1351.16,854.08 L1338.08,854.09 L1325,854.09 L1311.92,854.09 L1298.84,854.1 Z" fill="#d62728" fill-opacity="0.2" stroke="#d62728" stroke-opacity="0.2" stroke-width="2.3" stroke-linejoin="round"/>
<path d="M1298.84,733.38 L1311.92,733.38 L1325,733.39 L1338.08,733.39 L1351.16,733.4 L1364.23,733.41 L1377.31,733.42 L1390.39,733.45 L1403.47,733.48 L1416.55,733.54 L1429.62,733.61 L1442.7,733.73 L1455.78,733.89 L1468.86,734.14 L1481.94,734.5 L1495.01,735.02 L1508.09,735.79 L1521.17,736.9 L1534.25,738.51 L1547.33,740.8 L1560.4,744.03 L1573.48,748.46 L1586.56,754.39 L1599.64,762.01 L1612.72,771.35 L1625.79,782.12 L1638.87,793.71 L1651.95,805.31 L1665.03,816.09 L1678.11,825.43 L1691.18,833.06 L1704.26,838.99 L1717.34,843.43 L1730.42,846.66 L1743.5,848.96 L1756.57,850.57 L1769.65,851.68 L1782.73,852.45 L1795.81,852.98 L1808.89,853.34 L1821.96,853.58 L1835.04,853.75 L1848.12,853.86 L1861.2,853.94 L1874.28,853.99 L1887.35,854.03 L1900.43,854.05 L1913.51,854.07 L1926.59,854.08 L1939.67,854.08 L1952.74,854.09 L1965.82,854.09 L1978.9,854.1 L1991.98,854.1 L2005.06,854.1" fill="none" stroke="#377d3c" stroke-width="3.5" stroke-linejoin="round" stroke-linecap="butt"/>
<path d="M1298.84,651.57 L1311.92,651.58 L1325,651.58 L1338.08,651.59 L1351.16,651.6 L1364.23,651.62 L1377.31,651.65 L1390.39,651.69 L1403.47,651.75 L1416.55,651.83 L1429.62,651.96 L1442.7,652.15 L1455.78,652.43 L1468.86,652.84 L1481.94,653.44 L1495.01,654.33 L1508.09,655.61 L1521.17,657.48 L1534.25,660.18 L1547.33,664.03 L1560.4,669.43 L1573.48,676.87 L1586.56,686.82 L1599.64,699.61 L1612.72,715.27 L1625.79,733.34 L1638.87,752.79 L1651.95,772.25 L1665.03,790.33 L1678.11,806 L1691.18,818.8 L1704.26,828.76 L1717.34,836.2 L1730.42,841.62 L1743.5,845.47 L1756.57,848.17 L1769.65,850.04 L1782.73,851.33 L1795.81,852.22 L1808.89,852.82 L1821.96,853.23 L1835.04,853.51 L1848.12,853.7 L1861.2,853.83 L1874.28,853.92 L1887.35,853.98 L1900.43,854.02 L1913.51,854.04 L1926.59,854.06 L1939.67,854.07 L1952.74,854.08 L1965.82,854.09 L1978.9,854.09 L1991.98,854.09 L2005.06,854.1" fill="none" stroke="#1f77b4" stroke-width="3.5" stroke-linejoin="round" stroke-linecap="butt"/>
<path d="M1298.84,854.1 L1311.92,854.1 L1325,854.09 L1338.08,854.09 L1351.16,854.09 L1364.23,854.08 L1377.31,854.07 L1390.39,854.06 L1403.47,854.04 L1416.55,854.02 L1429.62,853.98 L1442.7,853.92 L1455.78,853.83 L1468.86,853.71 L1481.94,853.52 L1495.01,853.25 L1508.09,852.86 L1521.17,852.28 L1534.25,851.46 L1547.33,850.28 L1560.4,848.62 L1573.48,846.34 L1586.56,843.29 L1599.64,839.37 L1612.72,834.56 L1625.79,829.02 L1638.87,823.06 L1651.95,817.09 L1665.03,811.55 L1678.11,806.74 L1691.18,802.81 L1704.26,799.76 L1717.34,797.48 L1730.42,795.82 L1743.5,794.64 L1756.57,793.81 L1769.65,793.23 L1782.73,792.84 L1795.81,792.57 L1808.89,792.38 L1821.96,792.26 L1835.04,792.17 L1848.12,792.11 L1861.2,792.07 L1874.28,792.05 L1887.35,792.03 L1900.43,792.02 L1913.51,792.01 L1926.59,792 L1939.67,792 L1952.74,792 L1965.82,791.99 L1978.9,791.99 L1991.98,791.99 L2005.06,791.99" fill="none" stroke="#377d3c" stroke-width="3.5" stroke-linejoin="round" stroke-linecap="butt" stroke-dasharray="13.0 5.62" stroke-dashoffset="13.3"/>
<path d="M1298.84,854.1 L1311.92,854.09 L1325,854.09 L1338.08,854.09 L1351.16,854.08 L1364.23,854.07 L1377.31,854.06 L1390.39,854.03 L1403.47,854 L1416.55,853.96 L1429.62,853.89 L1442.7,853.79 L1455.78,853.64 L1468.86,853.42 L1481.94,853.1 L1495.01,852.63 L1508.09,851.95 L1521.17,850.95 L1534.25,849.52 L1547.33,847.48 L1560.4,844.61 L1573.48,840.65 L1586.56,835.37 L1599.64,828.58 L1612.72,820.25 L1625.79,810.65 L1638.87,800.32 L1651.95,789.98 L1665.03,780.38 L1678.11,772.05 L1691.18,765.25 L1704.26,759.96 L1717.34,756 L1730.42,753.13 L1743.5,751.08 L1756.57,749.64 L1769.65,748.65 L1782.73,747.96 L1795.81,747.49 L1808.89,747.17 L1821.96,746.96 L1835.04,746.81 L1848.12,746.71 L1861.2,746.64 L1874.28,746.59 L1887.35,746.56 L1900.43,746.54 L1913.51,746.52 L1926.59,746.51 L1939.67,746.51 L1952.74,746.5 L1965.82,746.5 L1978.9,746.5 L1991.98,746.5 L2005.06,746.5" fill="none" stroke="#1f77b4" stroke-width="3.5" stroke-linejoin="round" stroke-linecap="butt" stroke-dasharray="13.0 5.62" stroke-dashoffset="14"/>
<path d="M1298.84,628.47 L1311.92,628.48 L1325,628.48 L1338.08,628.49 L1351.16,628.51 L1364.23,628.53 L1377.31,628.56 L1390.39,628.6 L1403.47,628.67 L1416.55,628.77 L1429.62,628.91 L1442.7,629.12 L1455.78,629.43 L1468.86,629.89 L1481.94,630.56 L1495.01,631.54 L1508.09,632.98 L1521.17,635.06 L1534.25,638.06 L1547.33,642.35 L1560.4,648.37 L1573.48,656.66 L1586.56,667.74 L1599.64,681.99 L1612.72,699.44 L1625.79,719.56 L1638.87,741.24 L1651.95,762.92 L1665.03,783.05 L1678.11,800.52 L1691.18,814.78 L1704.26,825.87 L1717.34,834.16 L1730.42,840.19 L1743.5,844.49 L1756.57,847.49 L1769.65,849.58 L1782.73,851.02 L1795.81,852 L1808.89,852.67 L1821.96,853.13 L1835.04,853.44 L1848.12,853.65 L1861.2,853.8 L1874.28,853.9 L1887.35,853.96 L1900.43,854.01 L1913.51,854.04 L1926.59,854.06 L1939.67,854.07 L1952.74,854.08 L1965.82,854.09 L1978.9,854.09 L1991.98,854.09 L2005.06,854.1" fill="none" stroke="#000" stroke-width="4.65" stroke-linejoin="round" stroke-linecap="butt"/>
<path d="M1298.84,854.09 L1311.92,854.09 L1325,854.08 L1338.08,854.07 L1351.16,854.06 L1364.23,854.04 L1377.31,854.01 L1390.39,853.96 L1403.47,853.9 L1416.55,853.8 L1429.62,853.65 L1442.7,853.44 L1455.78,853.13 L1468.86,852.68 L1481.94,852 L1495.01,851.02 L1508.09,849.59 L1521.17,847.5 L1534.25,844.5 L1547.33,840.21 L1560.4,834.19 L1573.48,825.9 L1586.56,814.83 L1599.64,800.58 L1612.72,783.13 L1625.79,763 L1638.87,741.32 L1651.95,719.65 L1665.03,699.51 L1678.11,682.05 L1691.18,667.79 L1704.26,656.7 L1717.34,648.4 L1730.42,642.37 L1743.5,638.08 L1756.57,635.07 L1769.65,632.98 L1782.73,631.55 L1795.81,630.56 L1808.89,629.89 L1821.96,629.43 L1835.04,629.12 L1848.12,628.91 L1861.2,628.77 L1874.28,628.67 L1887.35,628.6 L1900.43,628.56 L1913.51,628.53 L1926.59,628.51 L1939.67,628.49 L1952.74,628.48 L1965.82,628.48 L1978.9,628.47 L1991.98,628.47 L2005.06,628.47" fill="none" stroke="#000" stroke-width="4.65" stroke-linejoin="round" stroke-linecap="butt" stroke-dasharray="17.37 7.51" stroke-dashoffset="9.1"/>
<line x1="1638.9" y1="643.58" x2="1638.9" y2="854.1" stroke="#000" stroke-width="1.6" stroke-linecap="butt"/>
<rect x="1837.66" y="605.9" width="141.24" height="248.2" fill="#000" fill-opacity="0.4"/>
</g>
<rect x="1325" y="605.9" width="653.9" height="248.2" fill="none" stroke="#000" stroke-width="1.85"/>
<line x1="1325" y1="854.1" x2="1325" y2="862.1" stroke="#000" stroke-width="1.85" stroke-linecap="butt"/>
<line x1="1325" y1="605.9" x2="1325" y2="597.9" stroke="#000" stroke-width="1.85" stroke-linecap="butt"/>
<line x1="1455.78" y1="854.1" x2="1455.78" y2="862.1" stroke="#000" stroke-width="1.85" stroke-linecap="butt"/>
<line x1="1455.78" y1="605.9" x2="1455.78" y2="597.9" stroke="#000" stroke-width="1.85" stroke-linecap="butt"/>
<line x1="1586.56" y1="854.1" x2="1586.56" y2="862.1" stroke="#000" stroke-width="1.85" stroke-linecap="butt"/>
<line x1="1586.56" y1="605.9" x2="1586.56" y2="597.9" stroke="#000" stroke-width="1.85" stroke-linecap="butt"/>
<line x1="1717.34" y1="854.1" x2="1717.34" y2="862.1" stroke="#000" stroke-width="1.85" stroke-linecap="butt"/>
<line x1="1717.34" y1="605.9" x2="1717.34" y2="597.9" stroke="#000" stroke-width="1.85" stroke-linecap="butt"/>
<line x1="1848.12" y1="854.1" x2="1848.12" y2="862.1" stroke="#000" stroke-width="1.85" stroke-linecap="butt"/>
<line x1="1848.12" y1="605.9" x2="1848.12" y2="597.9" stroke="#000" stroke-width="1.85" stroke-linecap="butt"/>
<line x1="1978.9" y1="854.1" x2="1978.9" y2="862.1" stroke="#000" stroke-width="1.85" stroke-linecap="butt"/>
<line x1="1978.9" y1="605.9" x2="1978.9" y2="597.9" stroke="#000" stroke-width="1.85" stroke-linecap="butt"/>
<line x1="1325" y1="854.1" x2="1317" y2="854.1" stroke="#000" stroke-width="1.85" stroke-linecap="butt"/>
<line x1="1325" y1="741.28" x2="1317" y2="741.28" stroke="#000" stroke-width="1.85" stroke-linecap="butt"/>
<line x1="1325" y1="628.46" x2="1317" y2="628.46" stroke="#000" stroke-width="1.85" stroke-linecap="butt"/>
<text x="1309.3" y="865.7" font-size="27.9" text-anchor="end">0</text>
<text x="1309.3" y="752.88" font-size="27.9" text-anchor="end">50</text>
<text x="1309.3" y="640.06" font-size="27.9" text-anchor="end">100</text>
<text x="1325" y="892.6" font-size="27.9" text-anchor="middle">1.5</text>
<text x="1455.78" y="892.6" font-size="27.9" text-anchor="middle">1.6</text>
<text x="1586.56" y="892.6" font-size="27.9" text-anchor="middle">1.7</text>
<text x="1717.34" y="892.6" font-size="27.9" text-anchor="middle">1.8</text>
<text x="1848.12" y="892.6" font-size="27.9" text-anchor="middle">1.9</text>
<text x="1978.9" y="892.6" font-size="27.9" text-anchor="middle">2.0</text>
<g transform="translate(1238.2,730.4) rotate(-90)"><text fill="#000"><tspan x="-49.21" y="0" font-size="37" font-style="italic">θ</tspan><tspan x="-26.58" y="0" font-size="37"> (%)</tspan></text></g>
<text fill="#377d3c"><tspan x="1404.2" y="827.2" font-size="23.4">V</tspan><tspan x="1420.53" y="833.6" font-size="16.38">S</tspan><tspan x="1420.53" y="818.24" font-size="16.38">0</tspan></text>
<text fill="#377d3c"><tspan x="1754.4" y="826.5" font-size="23.4">V</tspan><tspan x="1770.73" y="832.9" font-size="16.38">S</tspan><tspan x="1773.92" y="816.84" font-size="16.38">−</tspan></text>
<text fill="#1f77b4"><tspan x="1360.6" y="704.5" font-size="23.4">(</tspan><tspan x="1369.73" y="704.5" font-size="23.4">V</tspan><tspan x="1386.06" y="708.34" font-size="16.38">S</tspan><tspan x="1401.65" y="704.5" font-size="23.4">+</tspan><tspan x="1425.82" y="704.5" font-size="23.4">N</tspan><tspan x="1443.64" y="708.34" font-size="16.38">2</tspan><tspan x="1454.7" y="704.5" font-size="23.4">)</tspan><tspan x="1464.15" y="695.54" font-size="16.38">0</tspan></text>
<text fill="#1f77b4"><tspan x="1709.5" y="782.1" font-size="23.4">(</tspan><tspan x="1718.63" y="782.1" font-size="23.4">V</tspan><tspan x="1734.96" y="785.94" font-size="16.38">S</tspan><tspan x="1750.55" y="782.1" font-size="23.4">+</tspan><tspan x="1774.72" y="782.1" font-size="23.4">N</tspan><tspan x="1792.54" y="785.94" font-size="16.38">2</tspan><tspan x="1803.6" y="782.1" font-size="23.4">)</tspan><tspan x="1816.24" y="772.44" font-size="16.38">−</tspan></text>
<text fill="#d62728"><tspan x="1574.6" y="632.6" font-size="23.4">(</tspan><tspan x="1583.73" y="632.6" font-size="23.4">V</tspan><tspan x="1600.06" y="636.44" font-size="16.38">S</tspan><tspan x="1615.65" y="632.6" font-size="23.4">+</tspan><tspan x="1639.82" y="632.6" font-size="23.4">O</tspan><tspan x="1658.56" y="636.44" font-size="16.38">2</tspan><tspan x="1669.62" y="632.6" font-size="23.4">)</tspan><tspan x="1679.07" y="623.64" font-size="16.38">0</tspan></text>
<text fill="#d62728"><tspan x="1709.3" y="691.5" font-size="23.4">(</tspan><tspan x="1718.43" y="691.5" font-size="23.4">V</tspan><tspan x="1734.76" y="695.34" font-size="16.38">S</tspan><tspan x="1750.35" y="691.5" font-size="23.4">+</tspan><tspan x="1774.52" y="691.5" font-size="23.4">O</tspan><tspan x="1793.26" y="695.34" font-size="16.38">2</tspan><tspan x="1804.32" y="691.5" font-size="23.4">)</tspan><tspan x="1816.96" y="681.84" font-size="16.38">−</tspan></text>
<line x1="1460" y1="639.2" x2="1564.5" y2="629.4" stroke="#d62728" stroke-width="2.3" stroke-linecap="butt"/>
<text fill="#000"><tspan x="1524.15" y="938" font-size="37.3" font-style="italic">E</tspan><tspan x="1547.71" y="944.12" font-size="26.11">F</tspan><tspan x="1571.02" y="938" font-size="37.3">−</tspan><tspan x="1609.54" y="938" font-size="37.3" font-style="italic">E</tspan><tspan x="1633.11" y="944.12" font-size="26.11">VBM</tspan><tspan x="1692.43" y="938" font-size="37.3"> (eV)</tspan></text>
<g transform="translate(0,635.8) scale(0.84,1)"><text y="0" font-size="50.4" class="pl"><tspan x="1335.22">(</tspan><tspan x="1356.42">d</tspan><tspan x="1391.81">)</tspan></text></g>
</svg></body></html>
